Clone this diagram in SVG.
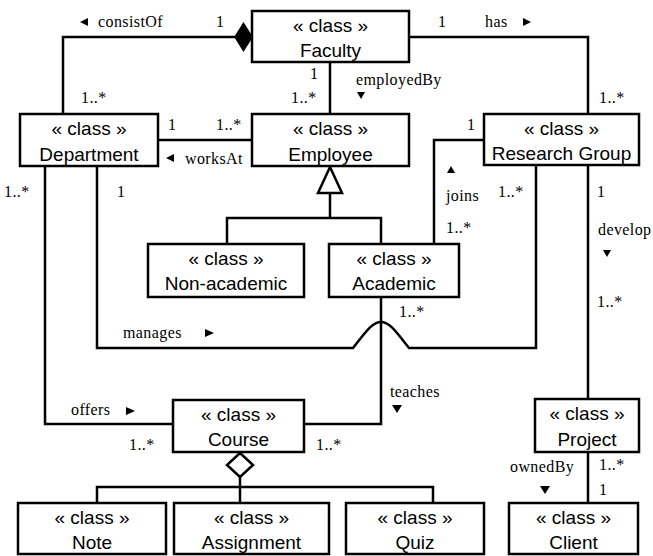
<svg xmlns="http://www.w3.org/2000/svg" width="653" height="556" viewBox="0 0 653 556">
<style>
.box{fill:#fff;stroke:#000;stroke-width:2.5}
.ln{fill:none;stroke:#000;stroke-width:2.5}
.ct{font-family:"Liberation Sans",Arial,sans-serif;font-size:19px;text-anchor:middle;fill:#000}
.lb{font-family:"Liberation Serif","Times New Roman",serif;font-size:16px;letter-spacing:0.4px;fill:#000}
.ar{fill:#000}
</style>
<rect width="653" height="556" fill="#fff"/>
<g id="connectors">
  <path class="ln" d="M235,37 H63 V114"/>
  <polygon points="252,37 243.5,23.5 235,37 243.5,50.5" fill="#000" stroke="#000" stroke-width="1.5"/>
  <path class="ln" d="M330,62 V114"/>
  <path class="ln" d="M409,37 H588 V114"/>
  <path class="ln" d="M158,140 H252"/>
  <path class="ln" d="M484,140 H434 V244"/>
  <polygon points="330,167 318,193 342,193" fill="#fff" stroke="#000" stroke-width="2.5"/>
  <path class="ln" d="M330,193 V218 M227,244 V218 H381 V244"/>
  <path class="ln" d="M97,166 V348 H353 C365,333 372,322 381,322 C390,322 397,333 409,348 H536 V165"/>
  <path class="ln" d="M45,166 V424 H173"/>
  <path class="ln" d="M381,297 V424 H304"/>
  <path class="ln" d="M588,165 V399"/>
  <path class="ln" d="M588,452 V503"/>
  <polygon points="240,453 253,465 240,477 227,465" fill="#fff" stroke="#000" stroke-width="2.5"/>
  <path class="ln" d="M240,477 V503 M97,503 V487 H433 V503"/>
  <!-- direction arrows -->
  <polygon class="ar" points="80,22 88,18 88,26"/>
  <polygon class="ar" points="531,22 523,18 523,26"/>
  <polygon class="ar" points="361,99 357,92 365,92"/>
  <polygon class="ar" points="166,158 174,154 174,162"/>
  <polygon class="ar" points="451,166 447,173 455,173"/>
  <polygon class="ar" points="607,257 603,250 611,250"/>
  <polygon class="ar" points="214,333 205,329 205,337"/>
  <polygon class="ar" points="135,411 126,407 126,415"/>
  <polygon class="ar" points="397,413 392,405 402,405"/>
  <polygon class="ar" points="545,494 540,486 550,486"/>
  <!-- labels -->
  <text class="lb" x="98" y="27">consistOf</text>
  <text class="lb" x="216" y="27">1</text>
  <text class="lb" x="438" y="27">1</text>
  <text class="lb" x="485" y="27">has</text>
  <text class="lb" x="310" y="79">1</text>
  <text class="lb" x="291" y="103">1..*</text>
  <text class="lb" x="356" y="85">employedBy</text>
  <text class="lb" x="81" y="103">1..*</text>
  <text class="lb" x="168" y="130">1</text>
  <text class="lb" x="216" y="130">1..*</text>
  <text class="lb" x="185" y="164">worksAt</text>
  <text class="lb" x="599" y="103">1..*</text>
  <text class="lb" x="467" y="130">1</text>
  <text class="lb" x="446" y="201">joins</text>
  <text class="lb" x="498" y="197">1..*</text>
  <text class="lb" x="446" y="233">1..*</text>
  <text class="lb" x="597" y="197">1</text>
  <text class="lb" x="598" y="235">develop</text>
  <text class="lb" x="597" y="307">1..*</text>
  <text class="lb" x="4" y="197">1..*</text>
  <text class="lb" x="117" y="197">1</text>
  <text class="lb" x="123" y="338">manages</text>
  <text class="lb" x="399" y="317">1..*</text>
  <text class="lb" x="71" y="415">offers</text>
  <text class="lb" x="129" y="450">1..*</text>
  <text class="lb" x="390" y="397">teaches</text>
  <text class="lb" x="316" y="450">1..*</text>
  <text class="lb" x="510" y="472">ownedBy</text>
  <text class="lb" x="599" y="470">1..*</text>
  <text class="lb" x="599" y="495">1</text>
</g>
<g id="faculty"><rect class="box" x="252" y="11" width="157" height="51"/><text class="ct" x="330.5" y="32">« class »</text><text class="ct" x="330.5" y="57">Faculty</text></g>
<g id="department"><rect class="box" x="20" y="114" width="138" height="52"/><text class="ct" x="89" y="135">« class »</text><text class="ct" x="89" y="161">Department</text></g>
<g id="employee"><rect class="box" x="252" y="114" width="157" height="52"/><text class="ct" x="330.5" y="135">« class »</text><text class="ct" x="330.5" y="161">Employee</text></g>
<g id="research-group"><rect class="box" x="484" y="114" width="155" height="51"/><text class="ct" x="561.5" y="135">« class »</text><text class="ct" x="561.5" y="160">Research Group</text></g>
<g id="non-academic"><rect class="box" x="148" y="244" width="156" height="53"/><text class="ct" x="226" y="265">« class »</text><text class="ct" x="226" y="290">Non-academic</text></g>
<g id="academic"><rect class="box" x="329" y="244" width="130" height="53"/><text class="ct" x="394" y="265">« class »</text><text class="ct" x="394" y="290">Academic</text></g>
<g id="course"><rect class="box" x="173" y="400" width="131" height="52"/><text class="ct" x="238.5" y="421">« class »</text><text class="ct" x="238.5" y="446">Course</text></g>
<g id="project"><rect class="box" x="535" y="399" width="104" height="53"/><text class="ct" x="587" y="420">« class »</text><text class="ct" x="587" y="446">Project</text></g>
<g id="note"><rect class="box" x="18" y="503" width="148" height="51"/><text class="ct" x="92" y="524">« class »</text><text class="ct" x="92" y="549">Note</text></g>
<g id="assignment"><rect class="box" x="174" y="503" width="155" height="51"/><text class="ct" x="251.5" y="524">« class »</text><text class="ct" x="251.5" y="549">Assignment</text></g>
<g id="quiz"><rect class="box" x="346" y="503" width="138" height="51"/><text class="ct" x="415" y="524">« class »</text><text class="ct" x="415" y="549">Quiz</text></g>
<g id="client"><rect class="box" x="509" y="503" width="129" height="51"/><text class="ct" x="573.5" y="524">« class »</text><text class="ct" x="573.5" y="549">Client</text></g>
</svg>
